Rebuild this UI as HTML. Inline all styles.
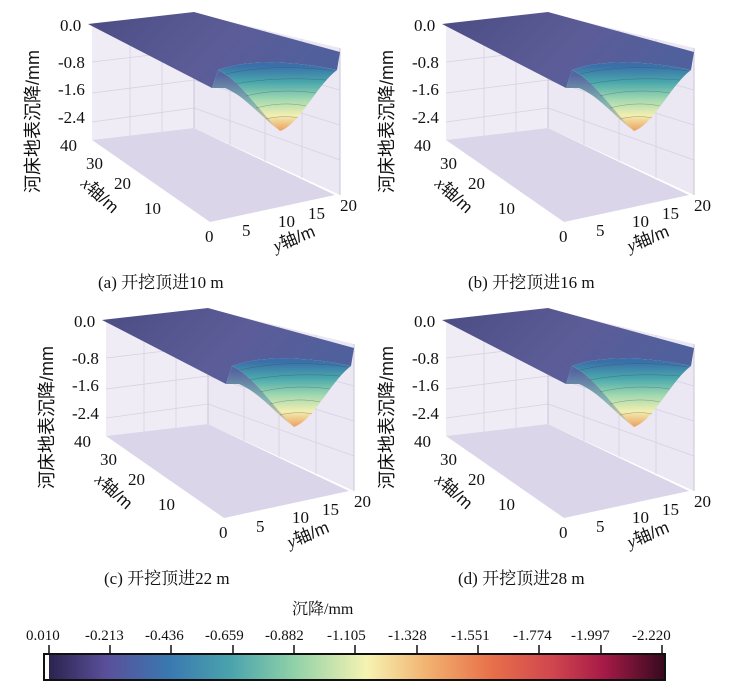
<!DOCTYPE html>
<html><head><meta charset="utf-8"><style>
body{margin:0;background:#fff}
svg text{font-family:"Liberation Serif","Noto Serif CJK SC",serif;fill:#111}
.cj{font-family:"Liberation Sans","Noto Sans CJK SC",sans-serif}
</style></head><body>
<svg width="732" height="693" viewBox="0 0 732 693" xmlns="http://www.w3.org/2000/svg">
<defs>
<linearGradient id="surf" x1="0" y1="0" x2="1" y2="0.3">
<stop offset="0" stop-color="#4c4c84"/><stop offset="0.6" stop-color="#5c5c98"/><stop offset="1" stop-color="#50609c"/></linearGradient>
<linearGradient id="dip" gradientUnits="userSpaceOnUse" x1="0" y1="66" x2="0" y2="132">
<stop offset="0" stop-color="#3a70aa"/><stop offset="0.25" stop-color="#4aa8ac"/><stop offset="0.5" stop-color="#9fd8b0"/><stop offset="0.75" stop-color="#f3efb0"/><stop offset="1" stop-color="#eb9a5a"/></linearGradient>
<linearGradient id="side" gradientUnits="userSpaceOnUse" x1="0" y1="75" x2="0" y2="130">
<stop offset="0" stop-color="#5566a0"/><stop offset="0.5" stop-color="#7fb2b0"/><stop offset="1" stop-color="#e8c890"/></linearGradient>
<g id="panel">
<polygon points="92,23 194,13 194,128 92,140" fill="#efecf6"/>
<polygon points="194,13 340,48 340,195 194,128" fill="#ebe7f3"/>
<g stroke="#d6d2e2" stroke-width="0.8">
<line x1="92" y1="62" x2="194" y2="50"/><line x1="92" y1="93" x2="194" y2="80"/><line x1="92" y1="122" x2="194" y2="108"/>
<line x1="130" y1="19" x2="130" y2="136"/><line x1="162" y1="16" x2="162" y2="132"/>
<line x1="194" y1="50" x2="340" y2="90"/><line x1="194" y1="80" x2="340" y2="125"/><line x1="194" y1="108" x2="340" y2="160"/>
<line x1="230" y1="22" x2="230" y2="145"/><line x1="265" y1="30" x2="265" y2="161"/><line x1="302" y1="39" x2="302" y2="178"/>
</g>
<polygon points="92,140 194,128 335,195 210,222" fill="#dbd5e9"/>
<line x1="194" y1="13" x2="194" y2="128" stroke="#c8c4d6"/>
<line x1="340" y1="48" x2="340" y2="195" stroke="#c8c4d6"/>
<path d="M88,24 L194,12 L340,52 L337,70 C300,62 250,58 218,70 L212,88 Z" fill="url(#surf)"/>
<path d="M212,88 L218,70 C240,80 258,110 280,131 C262,118 245,96 225,88 Z" fill="url(#side)"/>
<path d="M218,70 C240,80 258,110 280,131 C300,124 316,86 337,70 C300,62 250,58 218,70 Z" fill="url(#dip)"/>
<path d="M226,74 C260,66 300,66 334,71 M236,84 C265,78 300,78 326,80 M246,96 C270,90 295,90 316,93 M256,108 C275,103 292,103 306,106 M266,119 C278,116 290,116 298,118" stroke="#2f4550" stroke-width="0.5" fill="none" opacity="0.45"/>
<text x="60" y="31" font-size="17">0.0</text>
<text x="58" y="68" font-size="17">-0.8</text>
<text x="58" y="95" font-size="17">-1.6</text>
<text x="58" y="123" font-size="17">-2.4</text>
<text x="60" y="151" font-size="17">40</text>
<text x="86" y="169" font-size="17">30</text>
<text x="114" y="189" font-size="17">20</text>
<text x="144" y="214" font-size="17">10</text>
<text x="205" y="242" font-size="17">0</text>
<text x="242" y="236" font-size="17">5</text>
<text x="278" y="227" font-size="17">10</text>
<text x="308" y="219" font-size="17">15</text>
<text x="340" y="211" font-size="17">20</text>
<text class="cj" transform="translate(80,185) rotate(42)" font-size="17"><tspan font-style="italic" font-family="Liberation Serif">x</tspan>轴/m</text>
<text class="cj" transform="translate(276,252) rotate(-22)" font-size="17"><tspan font-style="italic" font-family="Liberation Serif">y</tspan>轴/m</text>
<text class="cj" transform="translate(39,193) rotate(-90)" font-size="18">河床地表沉降/mm</text>
</g>
<linearGradient id="cb" x1="0" y1="0" x2="1" y2="0">
<stop offset="0" stop-color="#262048"/><stop offset="0.1" stop-color="#5a4f9a"/><stop offset="0.2" stop-color="#3a78b0"/><stop offset="0.3" stop-color="#4aa3ad"/><stop offset="0.4" stop-color="#8ed0a8"/><stop offset="0.52" stop-color="#f6f3b2"/><stop offset="0.62" stop-color="#f1b06e"/><stop offset="0.72" stop-color="#e8704a"/><stop offset="0.82" stop-color="#d0454e"/><stop offset="0.9" stop-color="#a81b48"/><stop offset="1" stop-color="#350a1e"/></linearGradient>
</defs>
<use href="#panel"/>
<use href="#panel" transform="translate(354,0)"/>
<use href="#panel" transform="translate(14,296)"/>
<use href="#panel" transform="translate(354,296)"/>
<text x="98" y="288" font-size="17">(a) 开挖顶进10 m</text>
<text x="468" y="288" font-size="17">(b) 开挖顶进16 m</text>
<text x="104" y="584" font-size="17">(c) 开挖顶进22 m</text>
<text x="458" y="584" font-size="17">(d) 开挖顶进28 m</text>
<text x="292" y="614" font-size="16">沉降/mm</text>
<g font-size="15">
<text x="26" y="640">0.010</text><text x="85" y="640">-0.213</text><text x="145" y="640">-0.436</text><text x="205" y="640">-0.659</text><text x="265" y="640">-0.882</text><text x="327" y="640">-1.105</text><text x="388" y="640">-1.328</text><text x="451" y="640">-1.551</text><text x="513" y="640">-1.774</text><text x="571" y="640">-1.997</text><text x="632" y="640">-2.220</text>
</g>
<g stroke="#111" stroke-width="1.5">
<line x1="49" y1="645" x2="49" y2="654"/><line x1="110" y1="645" x2="110" y2="654"/><line x1="171" y1="645" x2="171" y2="654"/><line x1="233" y1="645" x2="233" y2="654"/><line x1="294" y1="645" x2="294" y2="654"/><line x1="355" y1="645" x2="355" y2="654"/><line x1="417" y1="645" x2="417" y2="654"/><line x1="478" y1="645" x2="478" y2="654"/><line x1="539" y1="645" x2="539" y2="654"/><line x1="601" y1="645" x2="601" y2="654"/><line x1="662" y1="645" x2="662" y2="654"/>
</g>
<rect x="44" y="654" width="621" height="26" fill="url(#cb)" stroke="#111" stroke-width="2"/>
<rect x="45" y="655" width="4" height="24" fill="#fff"/>
</svg>
</body></html>
